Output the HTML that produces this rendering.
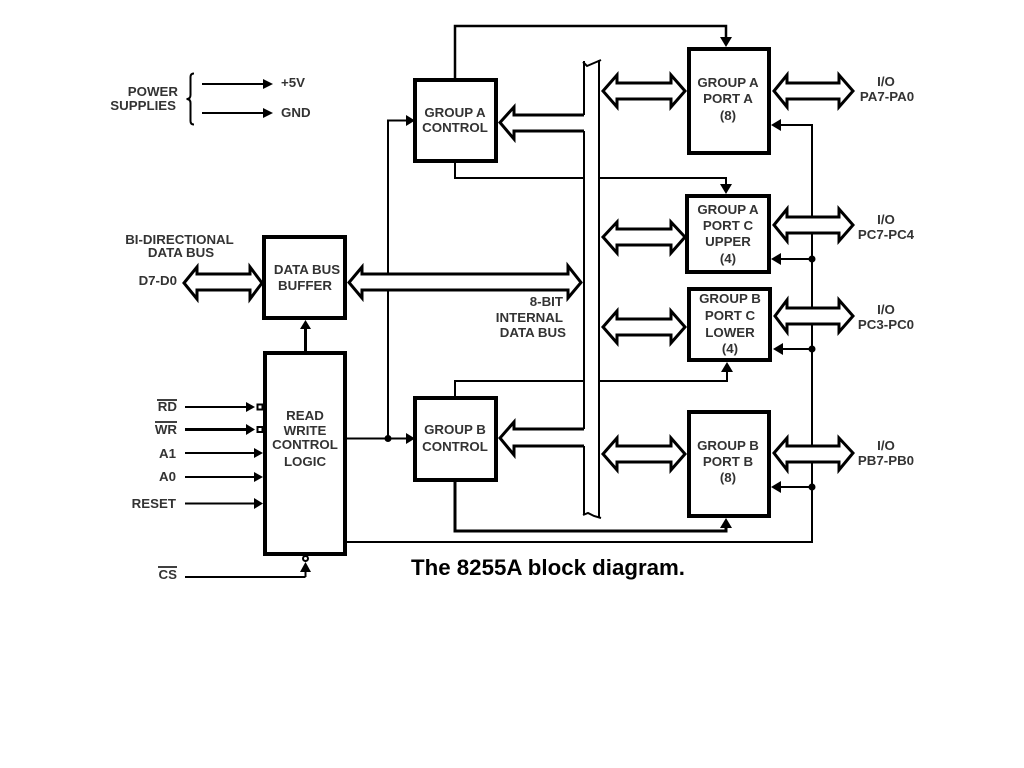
<!DOCTYPE html>
<html lang="en">
<head>
<meta charset="utf-8">
<title>The 8255A block diagram</title>
<style>
html,body{margin:0;padding:0;background:#fff;width:1024px;height:768px;overflow:hidden}
svg{display:block;filter:blur(0.35px)}
.l{fill:none;stroke:#000;stroke-width:2}
.t{fill:none;stroke:#000;stroke-width:3}
.b{fill:#fff;stroke:#000;stroke-width:4}
.a{fill:#fff;stroke:#000;stroke-width:3;stroke-linejoin:miter}
.h{fill:#000;stroke:none}
text{font-family:"Liberation Sans",Arial,sans-serif;font-weight:bold;font-size:13.3px;fill:#333}
.m{text-anchor:middle}
.e{text-anchor:end}
</style>
</head>
<body>
<svg width="1024" height="768" viewBox="0 0 1024 768" xmlns="http://www.w3.org/2000/svg">
<!-- power supplies -->
<path class="l" d="M194,73.500 Q190.500,73.500 190.500,77 V95 Q190.500,99 186.500,99 Q190.500,99 190.500,103 V121 Q190.500,124.500 194,124.500"/>
<path class="l" d="M202,84 H266 M202,113 H266"/>
<polygon class="h" points="263,79 273,84 263,89"/>
<polygon class="h" points="263,108 273,113 263,118"/>

<!-- thin control lines -->
<path class="l" d="M455,80 V26 H726 V38" style="stroke-width:2.500"/>
<path class="l" d="M455,161 V178 H726 V186"/>
<path class="l" d="M455,398 V381 H727 V370"/>
<path class="t" d="M455,480 V531 H726 V526"/>
<path class="l" d="M345,438.500 H406 M388,438.500 V120.500 H406"/>
<path class="l" d="M345,542 H812 V125 H780"/>
<path class="l" d="M812,259 H780 M812,349 H780 M812,487 H780"/>
<circle class="h" cx="388" cy="438.500" r="3.500"/>
<circle class="h" cx="812" cy="259" r="3.500"/>
<circle class="h" cx="812" cy="349" r="3.500"/>
<circle class="h" cx="812" cy="487" r="3.500"/>

<!-- internal bus -->
<rect x="584" y="61" width="15" height="456" fill="#fff"/>
<path class="l" d="M584,61 V115 M584,131 V429 M584,446 V515 M599,60 V518"/>
<path class="l" d="M583,62 L587,66 L594,63 L601,60"/>
<path class="l" d="M583,515 L588,513 L594,516 L601,518"/>
<polygon class="h" points="406,115 415,120.500 406,126"/>
<polygon class="h" points="406,433 415,438.500 406,444"/>
<polygon class="h" points="720,37 732,37 726,47"/>
<polygon class="h" points="720,184 732,184 726,194"/>
<polygon class="h" points="721,372 733,372 727,362"/>
<polygon class="h" points="720,528 732,528 726,518"/>
<polygon class="h" points="781,119 781,131 771,125"/>
<polygon class="h" points="781,253 781,265 771,259"/>
<polygon class="h" points="783,343 783,355 773,349"/>
<polygon class="h" points="781,481 781,493 771,487"/>

<!-- fat bus arrows -->
<polygon class="a" points="184,283 197,267 197,274 250,274 250,267 262,283 250,299 250,290 197,290 197,299"/>
<polygon class="a" points="349,282.500 362,267 362,274 568,274 568,266 581,282.500 568,298 568,290 362,290 362,298"/>
<path class="a" d="M584,115 H514 V107 L500,122.500 L514,139 V131 H584"/>
<path class="a" d="M584,429 H514 V422 L500,438 L514,455 V446 H584"/>
<polygon class="a" points="603,91 617,75 617,83 671,83 671,75 685,91 671,107 671,99 617,99 617,107"/>
<polygon class="a" points="603,237 617,222 617,229 671,229 671,222 685,237 671,253 671,245 617,245 617,253"/>
<polygon class="a" points="603,327 617,311 617,319 671,319 671,311 685,327 671,343 671,335 617,335 617,343"/>
<polygon class="a" points="603,454 617,438 617,446 671,446 671,438 685,454 671,470 671,462 617,462 617,470"/>
<polygon class="a" points="774,91 787,75 787,83 839,83 839,75 853,91 839,107 839,99 787,99 787,107"/>
<polygon class="a" points="774,225 787,209 787,217 839,217 839,209 853,225 839,241 839,233 787,233 787,241"/>
<polygon class="a" points="775,316 787,300 787,308 839,308 839,300 853,316 839,332 839,324 787,324 787,332"/>
<polygon class="a" points="774,453 787,438 787,446 839,446 839,438 853,453 839,470 839,462 787,462 787,470"/>

<!-- blocks -->
<rect class="b" x="264" y="237" width="81" height="81"/>
<rect class="b" x="265" y="353" width="80" height="201"/>
<rect class="b" x="415" y="80" width="81" height="81"/>
<rect class="b" x="415" y="398" width="81" height="82"/>
<rect class="b" x="689" y="49" width="80" height="104"/>
<rect class="b" x="687" y="196" width="82" height="76"/>
<rect class="b" x="689" y="289" width="81" height="71"/>
<rect class="b" x="689" y="412" width="80" height="104"/>

<!-- buffer feed -->
<path class="t" d="M305.500,351 V326"/>
<polygon class="h" points="300,329 311,329 305.500,320"/>

<!-- inputs -->
<path class="l" d="M185,407 H250 M185,453 H256 M185,477 H256 M185,503.500 H256 M185,577 H305.500"/>
<path class="t" d="M185,429.500 H250"/>
<polygon class="h" points="246,402 246,412 255,407"/>
<polygon class="h" points="246,424 246,435 255,429.500"/>
<polygon class="h" points="254,448 254,458 263,453"/>
<polygon class="h" points="254,472 254,482 263,477"/>
<polygon class="h" points="254,498 254,509 263,503.500"/>
<rect x="257.500" y="404.500" width="5" height="5" fill="#fff" stroke="#000" stroke-width="2"/>
<rect x="257.500" y="427" width="5" height="5" fill="#fff" stroke="#000" stroke-width="2"/>
<circle cx="305.500" cy="558.500" r="2.500" fill="#fff" stroke="#000" stroke-width="2"/>
<polygon class="h" points="300,572 311,572 305.500,562"/>
<path class="l" d="M305.500,570 V577"/>
<path class="l" d="M157,400 H177 M155,422 H177 M158,567 H177" style="stroke-width:1.500"/>

<!-- labels -->
<text class="e" x="178" y="96">POWER</text>
<text class="e" x="176" y="110">SUPPLIES</text>
<text x="281" y="87">+5V</text>
<text x="281" y="117">GND</text>
<text class="m" x="179.500" y="244">BI-DIRECTIONAL</text>
<text class="m" x="181" y="257">DATA BUS</text>
<text class="e" x="177" y="285">D7-D0</text>
<text class="m" x="307" y="274">DATA BUS</text>
<text class="m" x="305" y="290">BUFFER</text>
<text class="m" x="305" y="420">READ</text>
<text class="m" x="305" y="435">WRITE</text>
<text class="m" x="305" y="449">CONTROL</text>
<text class="m" x="305" y="466">LOGIC</text>
<text class="e" x="177" y="411">RD</text>
<text class="e" x="177" y="434">WR</text>
<text class="e" x="176" y="458">A1</text>
<text class="e" x="176" y="481">A0</text>
<text class="e" x="176" y="508">RESET</text>
<text class="e" x="177" y="579">CS</text>
<text class="m" x="455" y="117">GROUP A</text>
<text class="m" x="455" y="132">CONTROL</text>
<text class="m" x="455" y="434">GROUP B</text>
<text class="m" x="455" y="451">CONTROL</text>
<text class="e" x="563" y="306">8-BIT</text>
<text class="e" x="563" y="322">INTERNAL</text>
<text class="e" x="566" y="337">DATA BUS</text>
<text class="m" x="728" y="87">GROUP A</text>
<text class="m" x="728" y="103">PORT A</text>
<text class="m" x="728" y="120">(8)</text>
<text class="m" x="728" y="214">GROUP A</text>
<text class="m" x="728" y="230">PORT C</text>
<text class="m" x="728" y="246">UPPER</text>
<text class="m" x="728" y="263">(4)</text>
<text class="m" x="730" y="303">GROUP B</text>
<text class="m" x="730" y="320">PORT C</text>
<text class="m" x="730" y="337">LOWER</text>
<text class="m" x="730" y="353">(4)</text>
<text class="m" x="728" y="450">GROUP B</text>
<text class="m" x="728" y="466">PORT B</text>
<text class="m" x="728" y="482">(8)</text>
<text class="m" x="886" y="86">I/O</text>
<text class="m" x="887" y="101">PA7-PA0</text>
<text class="m" x="886" y="224">I/O</text>
<text class="m" x="886" y="239">PC7-PC4</text>
<text class="m" x="886" y="314">I/O</text>
<text class="m" x="886" y="329">PC3-PC0</text>
<text class="m" x="886" y="450">I/O</text>
<text class="m" x="886" y="465">PB7-PB0</text>
<text x="411" y="575" textLength="274" lengthAdjust="spacingAndGlyphs" style="font-size:22px;fill:#000">The 8255A block diagram.</text>
</svg>
</body>
</html>
